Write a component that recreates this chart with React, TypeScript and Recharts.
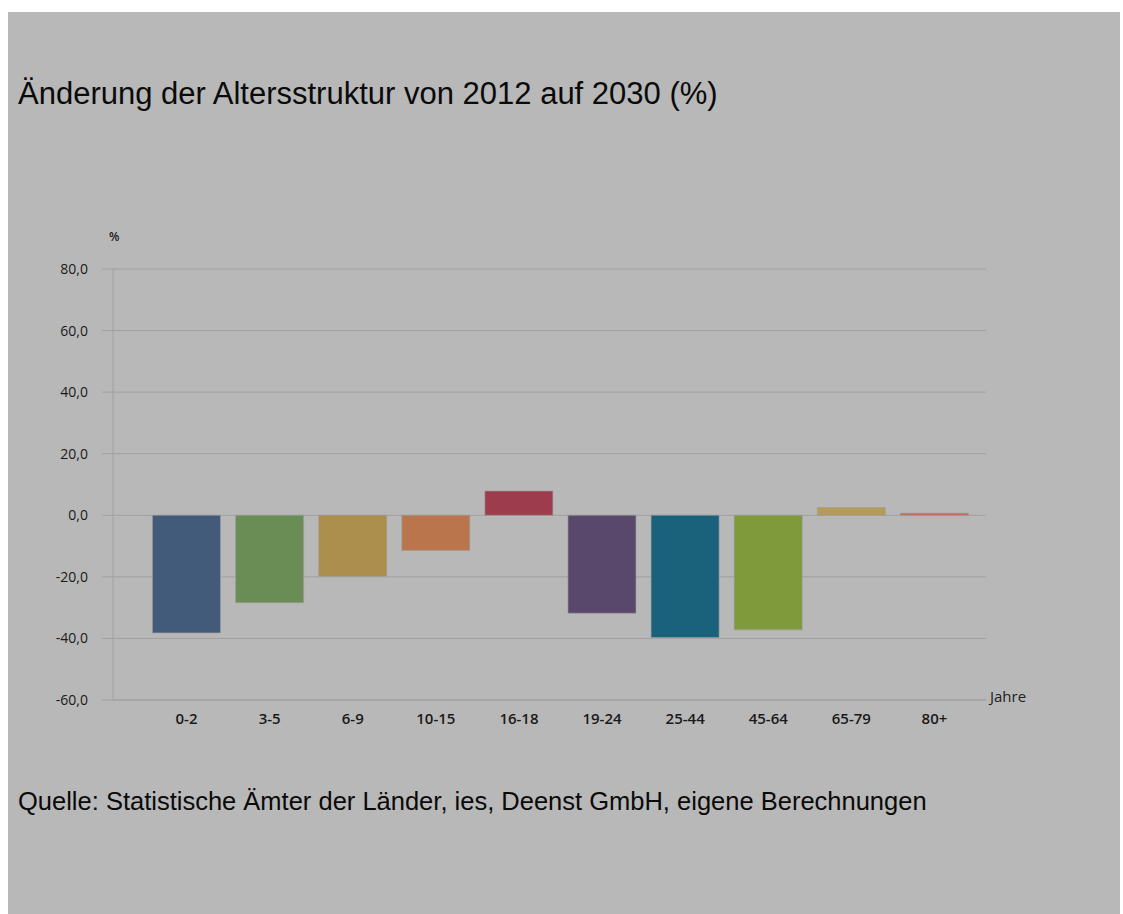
import { BarChart, Bar, XAxis, YAxis, CartesianGrid, Cell } from "recharts";

const AGE_GROUPS = ["0-2", "3-5", "6-9", "10-15", "16-18", "19-24", "25-44", "45-64", "65-79", "80+"];
const CHANGE_PCT = [-38.2, -28.4, -19.8, -11.4, 7.9, -31.8, -39.7, -37.2, 2.5, 0.7];
const BAR_COLORS = ["#435b7a", "#6a8c55", "#ac8f4c", "#bb754c", "#9d3c4d", "#5a476c", "#1a627c", "#7f9a3a", "#b59a58", "#c8664a"];
const Y_TICKS = [-60, -40, -20, 0, 20, 40, 60, 80];

const data = AGE_GROUPS.map((g, i) => ({ name: g, value: CHANGE_PCT[i] }));

const axisFont = "'Open Sans', 'DejaVu Sans', sans-serif";
const textFont = "'Liberation Sans', Arial, sans-serif";

export default function App() {
  return (
    <div style={{ position: "absolute", left: 0, top: 0, width: 1123, height: 914, overflow: "hidden", background: "#fff" }}>
      <div style={{ position: "absolute", left: 8, top: 12, width: 1112, height: 902, background: "#b8b8b8" }} />

      <div style={{ position: "absolute", left: 18, top: 76, fontFamily: textFont, fontSize: 31, color: "#0a0a0a", whiteSpace: "nowrap" }}>
        Änderung der Altersstruktur von 2012 auf 2030 (%)
      </div>

      <div style={{ position: "absolute", left: 109, top: 228, fontFamily: axisFont, fontSize: 12, fontWeight: 600, color: "#222" }}>%</div>
      <div style={{ position: "absolute", left: 990, top: 686, fontFamily: axisFont, fontSize: 15, color: "#222" }}>Jahre</div>

      <div style={{ position: "absolute", left: 0, top: 200 }}>
        <BarChart
          width={1123}
          height={560}
          data={data}
          margin={{ top: 69, right: 137, bottom: 0, left: 0 }}
          barCategoryGap="9%"
        >
          <CartesianGrid horizontal vertical={false} stroke="#a0a0a0" />
          <XAxis
            dataKey="name"
            height={60}
            padding={{ left: 32, right: 10 }}
            axisLine={{ stroke: "#a0a0a0" }}
            tickLine={false}
            tickSize={0}
            tickMargin={13}
            interval={0}
            tick={{ fill: "#1a1a1a", fontSize: 15, fontWeight: 600, fontFamily: axisFont }}
          />
          <YAxis
            width={113}
            domain={[-60, 80]}
            ticks={Y_TICKS}
            interval={0}
            axisLine={{ stroke: "#a0a0a0" }}
            tickLine={{ stroke: "#a0a0a0" }}
            tickSize={11}
            tickMargin={14}
            tickFormatter={(v: number) => v.toFixed(1).replace(".", ",")}
            tick={{ fill: "#1a1a1a", fontSize: 14, fontFamily: axisFont }}
          />
          <Bar dataKey="value" isAnimationActive={false} stroke="#9c9c9c" strokeOpacity={0.6} strokeWidth={1}>
            {data.map((_, i) => (
              <Cell key={`cell-${i}`} fill={BAR_COLORS[i]} />
            ))}
          </Bar>
        </BarChart>
      </div>

      <div style={{ position: "absolute", left: 18, top: 787, fontFamily: textFont, fontSize: 25.5, color: "#0a0a0a", whiteSpace: "nowrap" }}>
        Quelle: Statistische Ämter der Länder, ies, Deenst GmbH, eigene Berechnungen
      </div>
    </div>
  );
}
